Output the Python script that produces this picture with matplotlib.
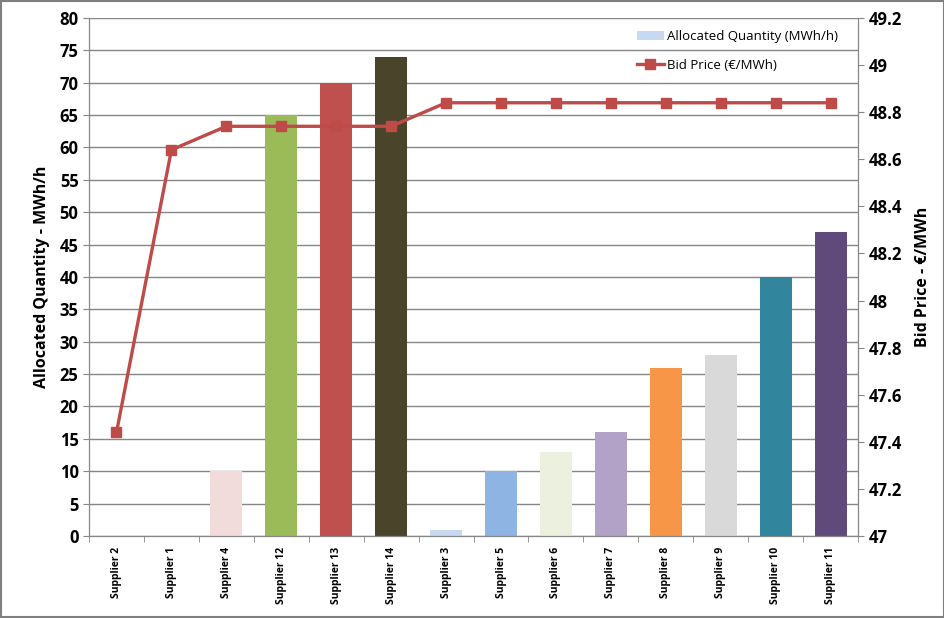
import matplotlib
matplotlib.use("Agg")
import matplotlib.pyplot as plt
from matplotlib.patches import Rectangle
import numpy as np

suppliers = ["Supplier 2", "Supplier 1", "Supplier 4", "Supplier 12", "Supplier 13",
             "Supplier 14", "Supplier 3", "Supplier 5", "Supplier 6", "Supplier 7",
             "Supplier 8", "Supplier 9", "Supplier 10", "Supplier 11"]
quantity = [0, 0, 10, 65, 70, 74, 1, 10, 13, 16, 26, 28, 40, 47]
bid_price = [47.44, 48.64, 48.74, 48.74, 48.74, 48.74, 48.84, 48.84, 48.84,
             48.84, 48.84, 48.84, 48.84, 48.84]
bar_colors = ["#C6D9F1", "#C6D9F1", "#F2DCDB", "#9BBB59", "#C0504D", "#4A452A",
              "#C6D9F1", "#8DB4E2", "#EBF1DE", "#B3A2C7", "#F79646", "#D9D9D9",
              "#31859C", "#604A7B"]

plt.rcParams['font.family'] = ['Open Sans', 'DejaVu Sans']

fig = plt.figure(figsize=(9.45, 6.18), dpi=100)
ax = fig.add_axes([0.0942, 0.1327, 0.8138, 0.8382])
x = np.arange(len(suppliers))

# bars on the left axis
ax.bar(x, quantity, width=0.58, color=bar_colors, zorder=2,
       label="Allocated Quantity (MWh/h)")
ax.set_xlim(-0.5, len(suppliers) - 0.5)
ax.set_ylim(0, 80)
ax.set_yticks(range(0, 81, 5))
ax.yaxis.grid(True, color="#868686", linewidth=1, zorder=0)
ax.set_axisbelow(True)
ax.set_xticks(x)
ax.set_xticklabels(suppliers, rotation=90, fontsize=7.5, fontweight="bold")
ax.tick_params(axis="x", length=0, pad=8)
ax.set_xticks(np.arange(-0.5, len(suppliers)), minor=True)
ax.tick_params(axis="x", which="minor", length=4, color="#868686")
ax.tick_params(axis="y", labelsize=12, length=4, color="#868686")
for lbl in ax.get_yticklabels():
    lbl.set_fontweight("bold")
ax.set_ylabel("Allocated Quantity - MWh/h", fontsize=11.5, fontweight="bold", labelpad=7)
ax.spines["top"].set_visible(False)
for s in ["left", "bottom", "right"]:
    ax.spines[s].set_color("#868686")

# price line on the right axis
ax2 = ax.twinx()
ax2.plot(x, bid_price, color="#BE4B48", linewidth=2.4, marker="s", markersize=7,
         label="Bid Price (€/MWh)", zorder=3)
ax2.set_ylim(47, 49.2)
ticks2 = np.round(np.arange(47, 49.21, 0.2), 1)
ax2.set_yticks(ticks2)
ax2.set_yticklabels([f"{v:g}" for v in ticks2])
ax2.tick_params(axis="y", labelsize=12, length=4, color="#868686")
for lbl in ax2.get_yticklabels():
    lbl.set_fontweight("bold")
ax2.set_ylabel("Bid Price - €/MWh", fontsize=11.5, fontweight="bold", labelpad=9)
ax2.spines["top"].set_visible(False)
for s in ["left", "bottom", "right"]:
    ax2.spines[s].set_color("#868686")

h1, l1 = ax.get_legend_handles_labels()
h2, l2 = ax2.get_legend_handles_labels()
ax2.legend(h1[:1] + h2, l1[:1] + l2, loc="upper right", frameon=False,
           fontsize=9.5, bbox_to_anchor=(0.99, 1.0), labelspacing=1.2,
           handlelength=2.0, handletextpad=0.3)

fig.patches.append(Rectangle((0.001, 0.001), 0.998, 0.998, transform=fig.transFigure,
                             fill=False, edgecolor="#7f7f7f", linewidth=1.5))

fig.savefig("out.png", dpi=100)
